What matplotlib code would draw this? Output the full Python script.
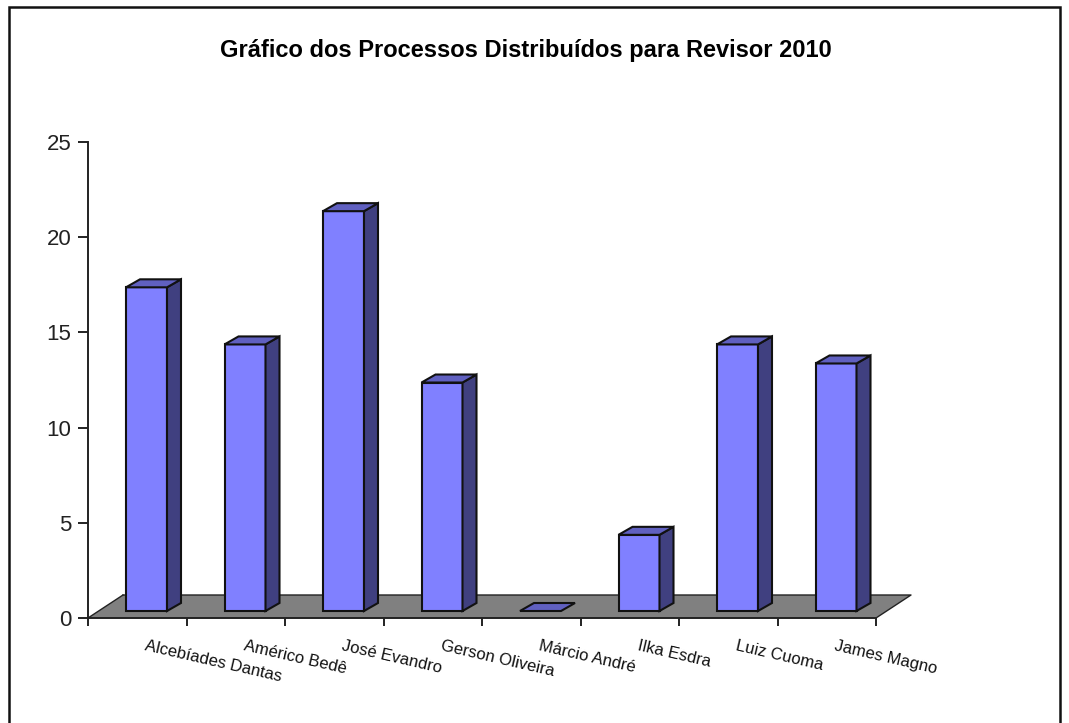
import matplotlib
matplotlib.use("Agg")
import matplotlib.pyplot as plt
from matplotlib.patches import Polygon, Rectangle
from matplotlib.lines import Line2D

names = ["Alcebíades Dantas", "Américo Bedê", "José Evandro", "Gerson Oliveira",
         "Márcio André", "Ilka Esdra", "Luiz Cuoma", "James Magno"]
values = [17, 14, 21, 12, 0, 4, 14, 13]
yticks = [0, 5, 10, 15, 20, 25]
title = "Gráfico dos Processos Distribuídos para Revisor 2010"

W, H = 1069, 723
plt.rcParams['font.family'] = ['Liberation Sans', 'DejaVu Sans']
fig = plt.figure(figsize=(W / 100, H / 100), dpi=100, facecolor='white')
fig.add_artist(Rectangle((9 / W, -0.01), (1060 - 9) / W, (723 - 7) / H + 0.01,
                         transform=fig.transFigure, fill=False, ec='#111111', lw=1.8))

ax = fig.add_axes([88 / W, 1 - 618 / H, (876 - 88) / W, (618 - 142) / H])
ax.set_xlim(0, 8)
ax.set_ylim(0, 25)
ax.patch.set_visible(False)
for s in ['top', 'right']:
    ax.spines[s].set_visible(False)
for s in ['left', 'bottom']:
    ax.spines[s].set_linewidth(1.4)
    ax.spines[s].set_color('#222222')

# depth of the floor, in data units
fx, fy = 35 / 98.5, 23 / 19.04
ax.add_patch(Polygon([(0, 0), (8, 0), (8 + fx, fy), (fx, fy)], closed=True, fc='#808080',
                     ec='none', clip_on=False, zorder=1))
ax.add_line(Line2D([fx, 8 + fx, 8], [fy, fy, 0], color='#222222', lw=1.0, clip_on=False, zorder=1.5))
ax.add_line(Line2D([0, fx], [0, fy], color='#222222', lw=1.0, clip_on=False, zorder=1.5))

bw = 41 / 98.5
dx, dy = 14 / 98.5, 8 / 19.04
shift_x, base = 38 / 98.5, 7 / 19.04
FRONT, TOP, SIDE = '#8080FF', '#6060C0', '#404080'
for i, v in enumerate(values):
    x0 = i + shift_x
    x1 = x0 + bw
    y1 = base + v
    kw = dict(closed=True, ec='#111111', lw=1.5, clip_on=False, zorder=3 + i)
    if v > 0:
        ax.add_patch(Polygon([(x0, base), (x1, base), (x1, y1), (x0, y1)], fc=FRONT, **kw))
        ax.add_patch(Polygon([(x1, base), (x1 + dx, base + dy), (x1 + dx, y1 + dy), (x1, y1)], fc=SIDE, **kw))
    ax.add_patch(Polygon([(x0, y1), (x1, y1), (x1 + dx, y1 + dy), (x0 + dx, y1 + dy)], fc=TOP, **kw))

ax.set_yticks(yticks)
ax.set_xticks(range(9))
ax.set_xticklabels([])
ax.tick_params(axis='y', length=7, width=1.4, labelsize=16, pad=5, color='#222222', labelcolor='#222222')
ax.tick_params(axis='x', length=6, width=1.4, color='#222222')

for i, n in enumerate(names):
    ax.annotate(n, xy=(i + 1, 0), xytext=(-41, -28), textcoords='offset pixels',
                rotation=-13, rotation_mode='anchor', ha='left', va='center',
                fontsize=12, color='#111111', annotation_clip=False)

fig.text(526 / W, 1 - 50 / H, title, ha='center', va='center', fontsize=17, fontweight='bold', color='black')
fig.savefig('out.png', dpi=100)
